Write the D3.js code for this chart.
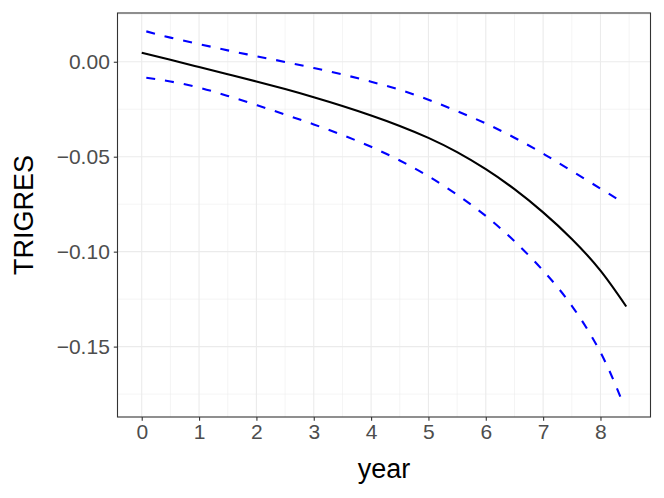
<!DOCTYPE html>
<html>
<head>
<meta charset="utf-8">
<script src="https://cdn.jsdelivr.net/npm/d3@7"></script>
<style>
  html, body { margin: 0; padding: 0; background: #fff; }
  svg { display: block; font-family: "Liberation Sans", Arial, sans-serif; }
</style>
</head>
<body>
<svg id="chart" width="664" height="498"></svg>
<script>
// ---- data ----
const meanYears = [0, 0.5, 1, 1.5, 2, 2.5, 3, 3.5, 4, 4.5, 5, 5.5, 6, 6.5, 7, 7.5, 8, 8.45];
const meanValues = [0.0047, 0.0010, -0.0028, -0.0066, -0.0104, -0.0144, -0.0187, -0.0233, -0.0283, -0.0338, -0.0401, -0.0476, -0.0566, -0.0671, -0.0793, -0.0933, -0.1100, -0.1289];
const ciYears = [0.08, 0.5, 1, 1.5, 2, 2.5, 3, 3.5, 4, 4.5, 5, 5.5, 6, 6.5, 7, 7.5, 8, 8.36];
const upperValues = [0.0160, 0.0127, 0.0093, 0.0060, 0.0029, -0.0001, -0.0033, -0.0067, -0.0105, -0.0148, -0.0200, -0.0260, -0.0325, -0.0400, -0.0484, -0.0575, -0.0668, -0.0735];
const lowerValues = [-0.0084, -0.0104, -0.0136, -0.0180, -0.0228, -0.0278, -0.0330, -0.0386, -0.0448, -0.0520, -0.0603, -0.0700, -0.0812, -0.0945, -0.1100, -0.1285, -0.1530, -0.1774];
const xTicks = [0, 1, 2, 3, 4, 5, 6, 7, 8];
const xMinor = [0.5, 1.5, 2.5, 3.5, 4.5, 5.5, 6.5, 7.5, 8.5];
const yTicks = [0, -0.05, -0.10, -0.15];
const yMinor = [0.025, -0.025, -0.075, -0.125, -0.175];
const xLabel = "year";
const yLabel = "TRIGRES";

// ---- layout ----
const panel = { left: 117.5, right: 650.5, top: 13, bottom: 417 };
const svg = d3.select("#chart");

function expand(ext) {
  const pad = (ext[1] - ext[0]) * 0.05;
  return [ext[0] - pad, ext[1] + pad];
}
const xExt = d3.extent(meanYears.concat(ciYears));
const yExt = d3.extent(meanValues.concat(upperValues, lowerValues));
const x = d3.scaleLinear().domain(expand(xExt)).range([panel.left, panel.right]);
const y = d3.scaleLinear().domain(expand(yExt)).range([panel.bottom, panel.top]);

// grid
const grid = svg.append("g");
grid.selectAll(".xminor").data(xMinor.filter(v => x(v) > panel.left && x(v) < panel.right)).enter()
  .append("line").attr("x1", d => x(d)).attr("x2", d => x(d))
  .attr("y1", panel.top).attr("y2", panel.bottom)
  .attr("stroke", "#EBEBEB").attr("stroke-width", 0.55);
grid.selectAll(".yminor").data(yMinor.filter(v => y(v) > panel.top && y(v) < panel.bottom)).enter()
  .append("line").attr("y1", d => y(d)).attr("y2", d => y(d))
  .attr("x1", panel.left).attr("x2", panel.right)
  .attr("stroke", "#EBEBEB").attr("stroke-width", 0.55);
grid.selectAll(".xmajor").data(xTicks).enter()
  .append("line").attr("x1", d => x(d)).attr("x2", d => x(d))
  .attr("y1", panel.top).attr("y2", panel.bottom)
  .attr("stroke", "#EBEBEB").attr("stroke-width", 1.1);
grid.selectAll(".ymajor").data(yTicks).enter()
  .append("line").attr("y1", d => y(d)).attr("y2", d => y(d))
  .attr("x1", panel.left).attr("x2", panel.right)
  .attr("stroke", "#EBEBEB").attr("stroke-width", 1.1);

// lines
const meanData = meanYears.map((t, i) => [t, meanValues[i]]);
const upperData = ciYears.map((t, i) => [t, upperValues[i]]);
const lowerData = ciYears.map((t, i) => [t, lowerValues[i]]);
const line = d3.line().x(d => x(d[0])).y(d => y(d[1])).curve(d3.curveNatural);

svg.append("path").datum(upperData).attr("d", line)
  .attr("fill", "none").attr("stroke", "#0000FF").attr("stroke-width", 2.1)
  .attr("stroke-dasharray", "9,10");
svg.append("path").datum(lowerData).attr("d", line)
  .attr("fill", "none").attr("stroke", "#0000FF").attr("stroke-width", 2.1)
  .attr("stroke-dasharray", "9,10");
svg.append("path").datum(meanData).attr("d", line)
  .attr("fill", "none").attr("stroke", "#000000").attr("stroke-width", 2.1);

// panel border
svg.append("rect")
  .attr("x", panel.left).attr("y", panel.top)
  .attr("width", panel.right - panel.left).attr("height", panel.bottom - panel.top)
  .attr("fill", "none").attr("stroke", "#333333").attr("stroke-width", 1.1);

// axes
const xAxis = d3.axisBottom(x).tickValues(xTicks).tickSize(3.7).tickPadding(3.5).tickFormat(d3.format("d"));
const gx = svg.append("g").attr("transform", `translate(0,${panel.bottom})`).call(xAxis);
gx.select(".domain").remove();
gx.selectAll(".tick line").attr("stroke", "#333333").attr("stroke-width", 1.1);
gx.selectAll(".tick text").attr("fill", "#4D4D4D").attr("font-size", 21)
  .attr("font-family", "Liberation Sans, Arial, sans-serif");

const yAxis = d3.axisLeft(y).tickValues(yTicks).tickSize(3.7).tickPadding(4).tickFormat(d3.format(".2f"));
const gy = svg.append("g").attr("transform", `translate(${panel.left},0)`).call(yAxis);
gy.select(".domain").remove();
gy.selectAll(".tick line").attr("stroke", "#333333").attr("stroke-width", 1.1);
gy.selectAll(".tick text").attr("fill", "#4D4D4D").attr("font-size", 21)
  .attr("font-family", "Liberation Sans, Arial, sans-serif");

// titles
svg.append("text").attr("x", (panel.left + panel.right) / 2).attr("y", 478)
  .attr("text-anchor", "middle").attr("font-size", 27).attr("fill", "#000")
  .text(xLabel);
svg.append("text").attr("transform", `translate(33,${(panel.top + panel.bottom) / 2}) rotate(-90)`)
  .attr("text-anchor", "middle").attr("font-size", 27).attr("fill", "#000")
  .text(yLabel);
</script>
</body>
</html>
